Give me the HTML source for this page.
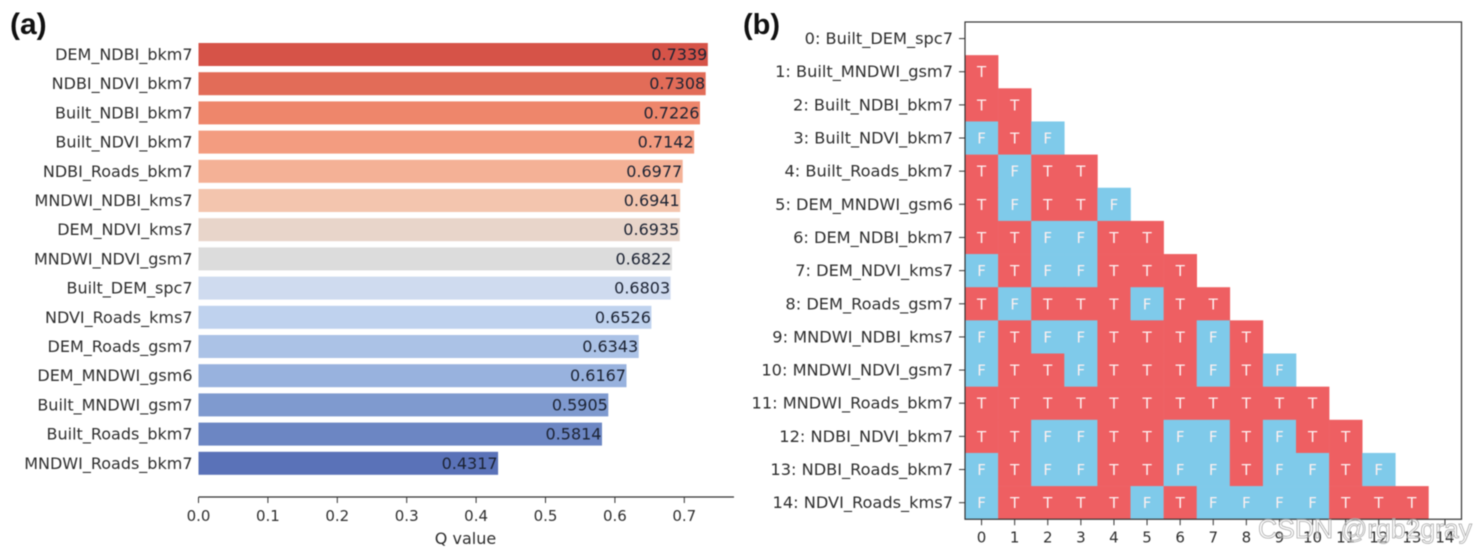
<!DOCTYPE html>
<html lang="en">
<head>
<meta charset="utf-8">
<title>Q value bar chart and significance matrix</title>
<style>
html,body{margin:0;padding:0;background:#fff;width:1476px;height:556px;overflow:hidden}
svg{display:block;filter:blur(0.5px)}
text{font-family:"DejaVu Sans","Liberation Sans",sans-serif;fill:#2e2e2e}
</style>
</head>
<body>
<svg id="chart" xmlns="http://www.w3.org/2000/svg" width="1476" height="556" viewBox="0 0 1476 556">
<text x="10" y="34" style="font-family:'Liberation Sans',sans-serif;font-size:30px;font-weight:bold;fill:#111">(a)</text>
<text x="743" y="34" style="font-family:'Liberation Sans',sans-serif;font-size:29px;font-weight:bold;fill:#111">(b)</text>
<g id="panelA"></g>
<g id="panelB"></g>
<text x="1258" y="538" style="font-family:'Liberation Sans',sans-serif;font-size:26.5px;fill:rgba(255,255,255,0.35);stroke:#a9a9a9;stroke-width:0.8">CSDN @rgb2gray</text>
</svg>
<script>
const barCategories = ["DEM_NDBI_bkm7","NDBI_NDVI_bkm7","Built_NDBI_bkm7","Built_NDVI_bkm7","NDBI_Roads_bkm7","MNDWI_NDBI_kms7","DEM_NDVI_kms7","MNDWI_NDVI_gsm7","Built_DEM_spc7","NDVI_Roads_kms7","DEM_Roads_gsm7","DEM_MNDWI_gsm6","Built_MNDWI_gsm7","Built_Roads_bkm7","MNDWI_Roads_bkm7"];
const barValues = [0.7339,0.7308,0.7226,0.7142,0.6977,0.6941,0.6935,0.6822,0.6803,0.6526,0.6343,0.6167,0.5905,0.5814,0.4317];
const barColors = ["#d65348","#e26c58","#ee866b","#f39c80","#f4b196","#f3c5ae","#e8d5ca","#dcdcdc","#cfdbef","#bfd2ee","#abc2e6","#98b2de","#7f9acf","#6c86c3","#5a72b8"];
const xTicks = [0,0.1,0.2,0.3,0.4,0.5,0.6,0.7];
const matrixLabels = ["0: Built_DEM_spc7","1: Built_MNDWI_gsm7","2: Built_NDBI_bkm7","3: Built_NDVI_bkm7","4: Built_Roads_bkm7","5: DEM_MNDWI_gsm6","6: DEM_NDBI_bkm7","7: DEM_NDVI_kms7","8: DEM_Roads_gsm7","9: MNDWI_NDBI_kms7","10: MNDWI_NDVI_gsm7","11: MNDWI_Roads_bkm7","12: NDBI_NDVI_bkm7","13: NDBI_Roads_bkm7","14: NDVI_Roads_kms7"];
const matrixRows = ["","T","TT","FTF","TFTT","TFTTF","TTFFTT","FTFFTTT","TFTTTFTT","FTFFTTTFT","FTTFTTTFTF","TTTTTTTTTTT","TTFFTTFFTFTT","FTFFTTFFTFFTF","FTTTTFTFFFFTTT"];
const matrixCols = [0,1,2,3,4,5,6,7,8,9,10,11,12,13,14];

const NS = "http://www.w3.org/2000/svg";
function make(parent, tag, attrs, txt){
  const el = document.createElementNS(NS, tag);
  for (const k in attrs) el.setAttribute(k, attrs[k]);
  if (txt !== undefined) el.textContent = txt;
  parent.appendChild(el);
  return el;
}
const gA = document.getElementById("panelA");
const gB = document.getElementById("panelB");
const AX = {x0:198.5, unit:694, top:43, step:29.2, h:23, axisY:497, right:734};
const xA = v => AX.x0 + v * AX.unit;
const yA = i => AX.top + i * AX.step;

barCategories.forEach((name, i) => {
  const bar = make(gA, "rect", {x:xA(0), y:yA(i), width:xA(barValues[i]) - xA(0), height:AX.h, fill:barColors[i]});
  
  
  const lab = make(gA, "text", {x:192.5, y:yA(i) + AX.h/2 + 5.5, "text-anchor":"end", style:"font-size:16px"}, name);
  
  
  const val = make(gA, "text", {x:xA(barValues[i]) - 0.5, y:yA(i) + AX.h/2 + 5.5, "text-anchor":"end", style:"font-size:16px;fill:#1c2333"}, barValues[i].toFixed(4));
  
  
});
const axisA = make(gA, "line", {x1:AX.x0, x2:AX.right, y1:AX.axisY, y2:AX.axisY, stroke:"#333", "stroke-width":1.2});


xTicks.forEach(t => {
  const tick = make(gA, "line", {x1:xA(t), x2:xA(t), y1:AX.axisY, y2:AX.axisY + 6, stroke:"#333", "stroke-width":1});
  
  
  const lab = make(gA, "text", {x:xA(t), y:521, "text-anchor":"middle", style:"font-size:15px"}, t.toFixed(1));
  
  
});
const xTitle = make(gA, "text", {x:465.5, y:544, "text-anchor":"middle", style:"font-size:16px"}, "Q value");



const M = {x0:965, y0:22, cw:33.1, ch:33.15, n:15};
const xM = c => M.x0 + c * M.cw;
const yM = r => M.y0 + r * M.ch;
const cellColor = {T:"#ee5f62", F:"#7fcaea"};
matrixRows.forEach((row, r) => {
  row.split("").forEach((v, c) => {
    const cell = make(gB, "rect", {x:xM(c), y:yM(r), width:M.cw + 0.3, height:M.ch + 0.3, fill:cellColor[v]});
    
    
    const t = make(gB, "text", {x:xM(c) + M.cw/2, y:yM(r) + M.ch/2 + 5.5, "text-anchor":"middle", style:"font-size:15px;fill:#fdf0f0"}, v);
    
    
  });
});
const frame = make(gB, "rect", {x:M.x0, y:M.y0, width:M.cw * M.n, height:M.ch * M.n, fill:"none", stroke:"#333", "stroke-width":1.2});


matrixLabels.forEach((name, r) => {
  const y = yM(r) + M.ch/2;
  const tick = make(gB, "line", {x1:M.x0 - 6, x2:M.x0, y1:y, y2:y, stroke:"#333", "stroke-width":1});
  
  
  const lab = make(gB, "text", {x:M.x0 - 12, y:y + 5.5, "text-anchor":"end", style:"font-size:16.2px"}, name);
  
  
});
matrixCols.forEach(c => {
  const x = xM(c) + M.cw/2;
  const yb = yM(M.n);
  const tick = make(gB, "line", {x1:x, x2:x, y1:yb, y2:yb + 6, stroke:"#333", "stroke-width":1});
  
  
  const lab = make(gB, "text", {x:x, y:yb + 23, "text-anchor":"middle", style:"font-size:15px"}, String(c));
  
  
});
</script>
</body>
</html>
